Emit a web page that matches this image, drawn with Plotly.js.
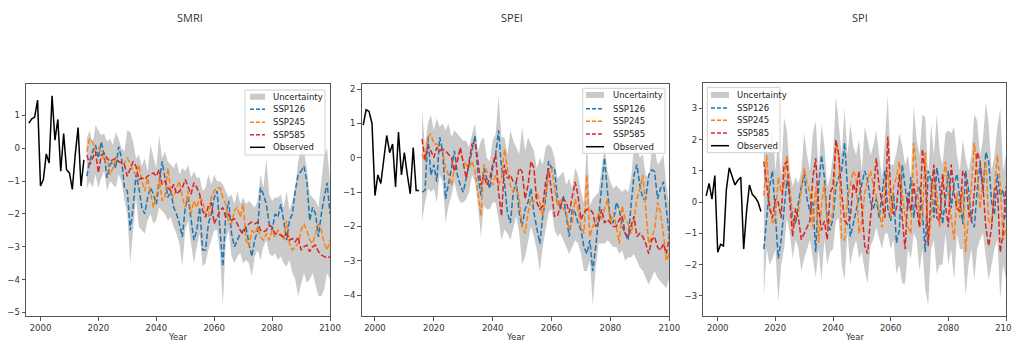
<!DOCTYPE html>
<html>
<head>
<meta charset="utf-8">
<script src="https://cdn.plot.ly/plotly-3.0.1.min.js"></script>
<style>html,body{margin:0;padding:0;background:#fff;}#chart{width:1012px;height:342px;}</style>
</head>
<body>
<div id="chart"></div>
<script>
// ---------- DATA ----------
const panelTitles = ["SMRI", "SPEI", "SPI"];
const seriesNames = ["Uncertainty", "SSP126", "SSP245", "SSP585", "Observed"];
const xTickVals = [2000, 2020, 2040, 2060, 2080, 2100];
const obsStart = 1996, projStart = 2016;

// SMRI
const smriObserved = [0.77, 0.9, 0.95, 1.47, -1.15, -0.95, -0.17, -0.45, 1.6, 0.25, 0.88, -0.7, 0.45, -0.65, -0.75, -1.25, -0.2, 0.63, -1.15, -0.35];
const smriSSP126 = [-0.85,-0.4,-0.1,0.1,-0.3,0.2,-0.2,-0.9,-0.5,-0.4,-0.6,0.05,-0.3,-1.2,-1.3,-2.5,-1.8,-0.8,-1.2,-1.8,-2.0,-1.5,-1.2,-1.4,-1.7,-1.0,-0.4,-0.9,-1.5,-1.3,-1.8,-2.0,-2.3,-2.7,-1.8,-1.5,-2.2,-2.8,-2.5,-1.8,-3.1,-3.1,-2.3,-2.0,-1.5,-1.3,-2.5,-3.6,-2.0,-1.6,-2.6,-3.0,-2.8,-2.6,-2.5,-2.4,-2.9,-3.3,-2.8,-2.5,-1.2,-1.4,-1.7,-2.3,-2.5,-2.0,-2.1,-1.7,-2.2,-2.8,-2.2,-2.0,-1.3,-0.8,-0.7,-0.55,-1.0,-2.2,-1.8,-2.0,-2.7,-2.0,-1.5,-1.05,-2.0];
const smriSSP245 = [-0.1,0.3,0.2,-0.1,0.0,-0.1,-0.4,-0.3,-0.8,-0.6,-0.3,-0.4,-0.5,-0.45,-0.3,-0.45,-0.7,-0.8,-0.5,-1.0,-1.3,-0.9,-1.3,-1.8,-1.5,-0.9,-1.6,-1.5,-0.6,-1.3,-1.5,-1.2,-1.0,-1.5,-1.8,-1.3,-2.0,-1.6,-1.8,-1.5,-1.6,-2.0,-2.1,-1.5,-1.3,-1.2,-1.2,-1.5,-1.7,-2.3,-2.3,-1.9,-1.8,-2.1,-1.7,-2.8,-3.0,-2.5,-2.6,-2.4,-2.7,-2.8,-2.6,-2.8,-2.5,-2.7,-2.5,-2.6,-2.8,-2.2,-2.9,-3.1,-3.0,-2.9,-2.5,-2.3,-2.5,-2.8,-2.9,-2.6,-2.3,-2.5,-2.9,-3.1,-2.8];
const smriSSP585 = [-0.2,-0.5,-0.3,-0.1,-0.75,-0.2,-0.15,-0.3,-0.4,-0.35,-0.3,-0.4,-0.45,-0.5,-0.85,-0.6,-0.4,-0.55,-0.95,-0.9,-0.95,-0.85,-0.8,-0.75,-0.85,-0.65,-1.1,-1.0,-1.2,-1.3,-1.1,-1.4,-1.3,-1.2,-0.95,-1.2,-1.4,-1.05,-1.2,-1.4,-1.9,-2.1,-1.75,-1.65,-2.3,-2.1,-1.9,-1.8,-2.1,-2.0,-2.2,-2.15,-2.3,-2.5,-2.6,-2.4,-2.3,-2.25,-2.3,-2.25,-2.5,-2.55,-2.5,-2.35,-2.4,-2.6,-2.6,-2.65,-2.7,-2.6,-2.8,-2.75,-2.85,-2.7,-3.1,-3.0,-2.95,-3.15,-3.0,-2.95,-3.15,-3.25,-3.3,-3.35,-3.3];
const smriUpper = [0.3,0.55,0.1,0.7,0.55,0.4,0.45,0.2,0.3,0.1,0.5,0.3,0.0,-0.1,0.55,0.5,0.2,-0.3,-0.2,-0.55,-0.3,-0.7,0.1,-0.3,-0.6,0.4,-0.3,-0.1,-0.4,-0.5,-0.6,-0.4,-0.8,-0.6,-0.7,-0.5,-0.9,-0.7,-0.9,-0.9,-1.3,-1.2,-0.8,-1.1,-0.8,-1.0,-1.0,-1.1,-1.3,-1.5,-1.4,-1.7,-1.3,-1.7,-1.5,-1.7,-1.6,-1.7,-1.8,-1.6,-0.8,-1.2,-0.3,-1.4,-1.6,-1.5,-1.5,-1.4,-1.8,-1.3,-1.9,-1.6,-1.2,-0.4,0.0,-0.1,-0.6,-1.4,-1.5,-1.6,-1.8,-0.9,-0.2,0.0,-1.0];
const smriLower = [-1.25,-1.0,-1.2,-0.8,-1.2,-0.9,-0.7,-1.3,-1.0,-1.1,-1.2,-0.8,-1.0,-1.6,-2.0,-3.5,-2.4,-1.5,-2.4,-2.5,-2.6,-2.2,-2.0,-2.3,-2.2,-1.8,-1.9,-2.0,-2.2,-2.1,-2.4,-2.6,-2.9,-3.6,-2.5,-2.2,-2.9,-3.5,-3.0,-2.6,-3.6,-3.5,-3.1,-2.8,-2.5,-2.5,-3.2,-4.8,-2.8,-2.5,-3.3,-3.5,-3.3,-3.2,-3.5,-3.4,-3.5,-3.9,-3.3,-3.1,-3.4,-3.0,-2.8,-3.2,-3.3,-3.2,-3.4,-3.3,-3.5,-3.6,-3.4,-3.8,-4.0,-4.5,-4.1,-3.8,-4.1,-4.0,-3.8,-4.2,-4.5,-4.5,-4.3,-3.8,-4.0];

// SPEI
const speiObserved = [0.95, 1.4, 1.35, 1.0, -1.1, -0.5, -0.75, -0.1, 0.65, 0.15, 0.4, -0.85, 0.75, -0.5, 0.15, -0.5, -1.05, 0.3, -0.95, -0.95];
const speiSSP126 = [-1.0,-0.95,0.6,-0.5,-0.2,-0.7,0.6,0.2,-1.2,-0.8,-0.3,0.2,-0.5,-0.8,-1.0,-0.6,-0.2,0.3,0.65,-0.5,-1.1,-0.3,-0.6,-0.9,-0.3,0.1,0.8,-0.3,-0.7,-1.6,-1.9,-1.0,-0.7,-1.6,-2.0,-1.5,-1.3,-0.9,-1.6,-2.1,-2.5,-1.7,-1.2,-0.1,-0.3,-0.3,-1.2,-1.5,-1.1,-1.7,-2.3,-1.5,-1.6,-1.9,-2.1,-2.6,-2.8,-2.4,-3.3,-2.6,-1.7,-0.8,0.0,-1.0,-1.8,-1.9,-1.3,-1.5,-2.0,-2.2,-2.4,-1.4,-0.5,-0.2,-0.8,-1.2,-1.2,-0.5,-0.35,-0.4,-1.2,-0.9,-0.7,-1.5,-2.3];
const speiSSP245 = [0.1,-0.1,0.6,0.7,0.4,0.4,0.3,0.2,-0.3,-0.5,-0.8,-0.3,0.0,0.2,-0.1,-0.2,-0.3,-0.1,-0.4,-1.0,-1.7,-0.2,-0.4,-0.5,-0.8,-0.5,-0.8,-0.6,0.25,-0.3,-0.8,-1.0,-0.8,-1.2,-2.0,-2.2,-1.6,-1.2,-1.3,-1.0,-1.3,-1.7,-1.1,-0.5,-0.3,-0.9,-1.4,-1.2,-1.5,-1.6,-2.1,-1.9,-1.2,-1.5,-2.0,-2.2,-0.5,-2.3,-2.0,-1.9,-1.6,-1.8,-1.5,-1.2,-1.9,-1.6,-2.0,-2.5,-1.4,-1.8,-1.9,-2.2,-1.8,-1.2,-0.9,-0.5,-1.5,-2.5,-2.3,-2.1,-1.3,-1.6,-2.2,-3.0,-2.8];
const speiSSP585 = [0.55,-0.05,0.35,0.2,0.0,0.3,0.2,0.25,0.2,0.1,0.0,-0.4,-0.1,0.3,-0.1,-0.6,-0.1,0.4,0.45,-0.1,-0.8,-0.5,-0.8,-0.6,-0.2,0.1,-1.0,-1.7,-0.2,-0.6,-0.5,-0.7,-0.7,-0.3,-0.4,-1.2,-0.8,-0.1,-0.3,-1.3,-1.5,-1.4,-0.7,-0.3,-1.0,-1.7,-1.7,-1.4,-1.2,-1.3,-1.6,-1.2,-0.7,-1.1,-1.8,-1.6,-1.5,-1.5,-1.6,-2.0,-1.9,-1.5,-1.9,-1.8,-1.9,-2.0,-2.0,-1.8,-1.7,-2.2,-2.3,-2.0,-1.7,-2.3,-2.2,-2.3,-2.5,-2.8,-2.4,-2.3,-2.6,-2.7,-2.5,-2.8,-2.3];
const speiUpper = [1.4,0.3,1.0,1.25,0.8,1.15,0.9,1.0,0.8,1.0,0.6,0.8,0.7,0.6,0.5,0.5,0.3,0.7,1.0,0.2,0.5,0.6,0.0,-0.1,0.5,0.7,1.8,0.6,0.6,0.1,0.8,0.5,0.3,0.1,0.9,0.2,0.6,0.4,0.2,-0.3,0.0,-0.2,0.3,0.4,0.3,0.0,-0.6,-0.5,-0.4,-0.8,-0.6,-0.9,-0.3,-0.5,-1.0,-1.3,0.5,-1.4,-1.2,-1.1,-1.0,-0.3,0.3,-0.4,-0.7,-0.9,-0.8,-0.9,-1.0,-0.9,-1.0,-0.6,0.3,0.3,0.0,0.1,-0.5,-0.6,0.2,0.3,-0.2,-0.1,0.1,-0.8,-1.4];
const speiLower = [-1.85,-1.3,-0.9,-1.0,-0.9,-1.3,-0.5,-0.7,-1.9,-1.4,-1.1,-0.7,-1.1,-1.3,-1.3,-1.2,-1.0,-0.5,-0.7,-1.4,-2.3,-1.4,-1.5,-1.5,-1.3,-1.3,-1.8,-2.4,-2.1,-2.2,-2.4,-2.0,-1.7,-2.2,-3.1,-2.9,-2.4,-2.0,-2.3,-2.7,-3.3,-2.6,-2.1,-1.6,-1.5,-2.1,-2.3,-2.2,-2.4,-2.6,-2.8,-2.6,-2.4,-2.5,-2.8,-3.3,-3.3,-3.0,-4.3,-3.2,-2.5,-2.5,-2.5,-2.4,-2.5,-2.6,-2.6,-2.8,-2.7,-3.0,-2.9,-2.9,-2.8,-3.0,-3.2,-3.3,-3.5,-3.7,-3.5,-3.3,-3.5,-3.6,-3.7,-3.8,-3.5];

// SPI
const spiObserved = [0.2, 0.6, 0.1, 0.85, -1.6, -1.35, -1.4, 0.4, 1.1, 0.85, 0.55, 0.7, 0.8, -1.5, -0.3, 0.55, 0.25, 0.15, 0.0, -0.3];
const spiSSP126 = [-1.5,-0.5,0.5,1.0,-0.6,-1.8,-1.2,-0.2,0.7,0.3,-0.5,-0.7,0.0,0.5,0.9,0.1,-0.3,0.0,-1.6,0.5,1.5,0.8,-0.6,-0.9,-0.5,0.5,0.8,1.0,1.9,0.5,-1.1,-0.7,-0.3,0.2,0.5,1.0,0.7,0.0,-0.2,0.1,-0.5,0.3,1.0,-0.2,-0.6,0.3,-1.3,-0.9,1.2,0.5,-0.2,0.8,-0.5,0.3,0.5,-0.3,-1.6,1.0,0.7,-0.5,1.1,0.5,-0.7,0.1,1.0,-0.2,0.6,0.9,0.0,-0.7,1.0,0.4,-0.6,-0.8,0.4,1.2,0.3,1.6,1.3,0.0,-0.4,0.9,0.2,0.4,-0.5];
const spiSSP245 = [0.2,1.5,0.0,-0.7,-0.5,0.8,0.3,0.5,1.5,0.5,-0.8,-0.5,-0.3,0.5,1.1,0.6,0.3,-0.8,0.5,-1.3,-0.1,0.6,-0.8,-0.6,-0.3,1.9,1.5,-1.2,-1.2,0.1,0.5,1.0,0.8,-1.0,-0.6,0.3,0.7,1.0,0.5,0.2,-0.3,-0.8,0.5,1.0,-0.5,0.5,0.8,1.3,0.3,-0.5,-0.8,-1.0,1.9,1.0,-0.8,-0.5,1.6,-1.3,-0.5,0.8,0.3,-0.8,0.5,1.3,0.2,-0.5,-1.2,0.3,-0.5,0.5,-1.6,-0.4,0.5,1.9,1.0,-0.2,0.7,1.3,-0.6,-0.7,0.3,1.5,0.6,-1.2,-0.8];
const spiSSP585 = [1.3,0.5,-0.2,-0.5,0.1,0.0,-0.5,1.2,1.3,0.0,-1.1,-0.2,-0.5,-1.2,-1.0,-0.8,-0.6,0.8,1.4,-0.2,-0.9,-0.6,-1.2,0.3,0.5,2.0,1.5,0.3,-0.6,-0.7,-0.5,0.6,0.3,1.0,-0.2,-1.4,-1.65,-0.5,0.3,1.4,0.5,0.0,-0.5,2.1,0.3,-0.4,-0.2,0.9,-0.5,-1.5,0.3,-0.3,0.6,-0.2,-0.8,1.7,0.9,-1.4,0.3,1.2,-0.5,-0.6,0.9,-0.1,-0.8,1.2,0.3,-0.2,-0.3,1.0,0.8,-0.3,-0.6,0.3,1.6,1.3,0.5,-0.8,-1.4,-0.8,0.4,0.5,-1.6,-1.0,0.5];
const spiUpper = [1.8,2.6,1.5,2.5,1.0,2.0,0.8,2.7,2.3,1.0,0.5,0.8,0.6,1.0,2.2,1.5,1.0,2.2,2.6,1.0,2.5,1.8,0.5,0.8,1.5,3.4,2.5,1.5,3.0,1.5,2.5,1.8,1.5,2.0,1.0,2.4,2.0,1.5,1.8,2.3,1.5,0.8,2.0,3.4,1.2,1.2,1.6,2.2,1.8,1.2,1.5,0.8,3.1,2.0,1.5,2.8,2.7,0.8,2.5,1.5,2.8,1.6,1.2,2.2,2.3,2.2,2.4,1.5,1.0,2.0,1.4,1.0,1.5,2.8,2.6,1.5,2.0,3.2,2.5,1.0,1.5,2.4,3.0,1.0,1.5];
const spiLower = [-3.0,-1.5,-2.0,-1.8,-1.5,-3.2,-2.0,-1.5,-0.5,-1.0,-1.8,-1.2,-1.5,-2.2,-1.8,-1.5,-1.2,-1.8,-2.4,-1.5,-2.5,-1.2,-2.0,-1.6,-1.5,-0.6,-0.5,-2.0,-2.5,-1.0,-2.0,-1.5,-1.2,-1.8,-1.6,-2.2,-2.6,-1.4,-1.2,-0.8,-1.2,-1.5,-1.0,-1.0,-1.5,-1.2,-2.3,-2.0,-2.6,-2.6,-1.5,-1.8,-1.0,-1.2,-2.2,-1.5,-2.8,-3.3,-1.5,-1.2,-2.3,-2.0,-2.0,-1.0,-2.0,-1.5,-2.5,-1.0,-1.5,-1.5,-3.0,-2.0,-1.5,-2.5,-1.5,-1.2,-1.0,-1.8,-2.5,-2.0,-1.5,-1.2,-3.1,-2.0,-2.5];

// ---------- STYLE / LAYOUT ----------
const W = 1012, H = 342;
const px = x => x / W, py = y => 1 - y / H;
const colors = {band: "rgba(128,128,128,0.42)", s126: "#1f77b4", s245: "#ff7f0e", s585: "#d62728", obs: "#000000"};
const dash = "5.5px,2.4px";
const tickFont = {family: "DejaVu Sans", size: 8.5, color: "#333"};

const panels = [
  {obs: smriObserved, s126: smriSSP126, s245: smriSSP245, s585: smriSSP585, up: smriUpper, lo: smriLower,
   box: [26, 84, 330, 316], xr: [1995, 2100], yr: [-5.11, 1.96], yt: [-5,-4,-3,-2,-1,0,1],
   leg: {box: [245, 90, 325, 155], sx: [250, 265], tx: 271, rows: [96.7, 109.3, 122.3, 134.7, 147.3]}, tx: 190},
  {obs: speiObserved, s126: speiSSP126, s245: speiSSP245, s585: speiSSP585, up: speiUpper, lo: speiLower,
   box: [361.7, 84, 669.3, 316], xr: [1995.5, 2100], yr: [-4.61, 2.15], yt: [-4,-3,-2,-1,0,1,2],
   leg: {box: [582.7, 88.3, 665, 153.3], sx: [586, 604], tx: 610.7, rows: [95, 108.7, 121.3, 134, 146.7]}, tx: 512},
  {obs: spiObserved, s126: spiSSP126, s245: spiSSP245, s585: spiSSP585, up: spiUpper, lo: spiLower,
   box: [703.3, 82.7, 1006, 316], xr: [1995, 2100], yr: [-3.64, 3.82], yt: [-3,-2,-1,0,1,2,3],
   leg: {box: [707.3, 87.3, 780, 152.7], sx: [711, 729], tx: 735, rows: [95, 108, 120.3, 133, 145.7]}, tx: 860}
];

const yearsObs = Array.from({length: 20}, (_, i) => obsStart + i);
const yearsProj = Array.from({length: 85}, (_, i) => projStart + i);

const traces = [], shapes = [], annotations = [];
const layout = {width: W, height: H, margin: {l: 0, r: 0, t: 0, b: 0}, paper_bgcolor: "#fff", plot_bgcolor: "#fff", showlegend: false};

panels.forEach((p, i) => {
  const n = i === 0 ? "" : String(i + 1);
  const xa = "x" + n, ya = "y" + n;
  const [l, t, r, b] = p.box;
  const axCommon = {showline: true, mirror: true, linecolor: "#555", linewidth: 1, ticks: "outside", ticklen: 3.5,
    tickwidth: 1, tickcolor: "#555", showgrid: false, zeroline: false, tickfont: tickFont, fixedrange: true,
    ticklabeloverflow: "allow"};
  layout["xaxis" + n] = Object.assign({}, axCommon, {domain: [px(l), px(r)], range: p.xr, anchor: ya, tickvals: xTickVals, ticktext: xTickVals.map(String)});
  layout["yaxis" + n] = Object.assign({}, axCommon, {domain: [py(b), py(t)], range: p.yr, anchor: xa, tickvals: p.yt});

  traces.push({x: yearsProj, y: p.lo, xaxis: xa, yaxis: ya, mode: "lines", line: {width: 0}, hoverinfo: "skip", name: "lower"});
  traces.push({x: yearsProj, y: p.up, xaxis: xa, yaxis: ya, mode: "lines", line: {width: 0}, fill: "tonexty", fillcolor: colors.band, name: seriesNames[0]});
  traces.push({x: yearsProj, y: p.s126, xaxis: xa, yaxis: ya, mode: "lines", line: {color: colors.s126, width: 1.5, dash: dash}, name: seriesNames[1]});
  traces.push({x: yearsProj, y: p.s245, xaxis: xa, yaxis: ya, mode: "lines", line: {color: colors.s245, width: 1.5, dash: dash}, name: seriesNames[2]});
  traces.push({x: yearsProj, y: p.s585, xaxis: xa, yaxis: ya, mode: "lines", line: {color: colors.s585, width: 1.5, dash: dash}, name: seriesNames[3]});
  traces.push({x: yearsObs, y: p.obs, xaxis: xa, yaxis: ya, mode: "lines", line: {color: colors.obs, width: 1.5}, name: seriesNames[4]});

  // legend box (drawn manually to match matplotlib compact spacing)
  const L = p.leg;
  shapes.push({type: "rect", xref: "paper", yref: "paper", x0: px(L.box[0]), x1: px(L.box[2]), y0: py(L.box[3]), y1: py(L.box[1]),
    fillcolor: "rgba(255,255,255,0.85)", line: {color: "#d0d0d0", width: 1}, layer: "above"});
  const lineCols = [null, colors.s126, colors.s245, colors.s585, colors.obs];
  L.rows.forEach((ry, k) => {
    if (k === 0) {
      shapes.push({type: "rect", xref: "paper", yref: "paper", x0: px(L.sx[0]), x1: px(L.sx[1]), y0: py(ry + 3), y1: py(ry - 3),
        fillcolor: colors.band, line: {width: 0}, layer: "above"});
    } else {
      shapes.push({type: "line", xref: "paper", yref: "paper", x0: px(L.sx[0]), x1: px(L.sx[1]), y0: py(ry), y1: py(ry),
        line: {color: lineCols[k], width: 1.5, dash: k === 4 ? "solid" : "4px,2px"}, layer: "above"});
    }
    annotations.push({xref: "paper", yref: "paper", x: px(L.tx), y: py(ry), xanchor: "left", yanchor: "middle",
      text: seriesNames[k], showarrow: false, font: {family: "DejaVu Sans", size: 8.5, color: "#222"}});
  });

  // axis title
  annotations.push({xref: "paper", yref: "paper", x: px((l + r) / 2), y: py(337), xanchor: "center", yanchor: "middle",
    text: "Year", showarrow: false, font: {family: "DejaVu Sans", size: 8.5, color: "#333"}});
  // panel title
  annotations.push({xref: "paper", yref: "paper", x: px(p.tx), y: py(18), xanchor: "center", yanchor: "middle",
    text: panelTitles[i], showarrow: false, font: {family: "Open Sans", size: 11, color: "#333"}});
});

layout.shapes = shapes;
layout.annotations = annotations;
Plotly.newPlot("chart", traces, layout, {staticPlot: true, displayModeBar: false});
</script>
</body>
</html>
